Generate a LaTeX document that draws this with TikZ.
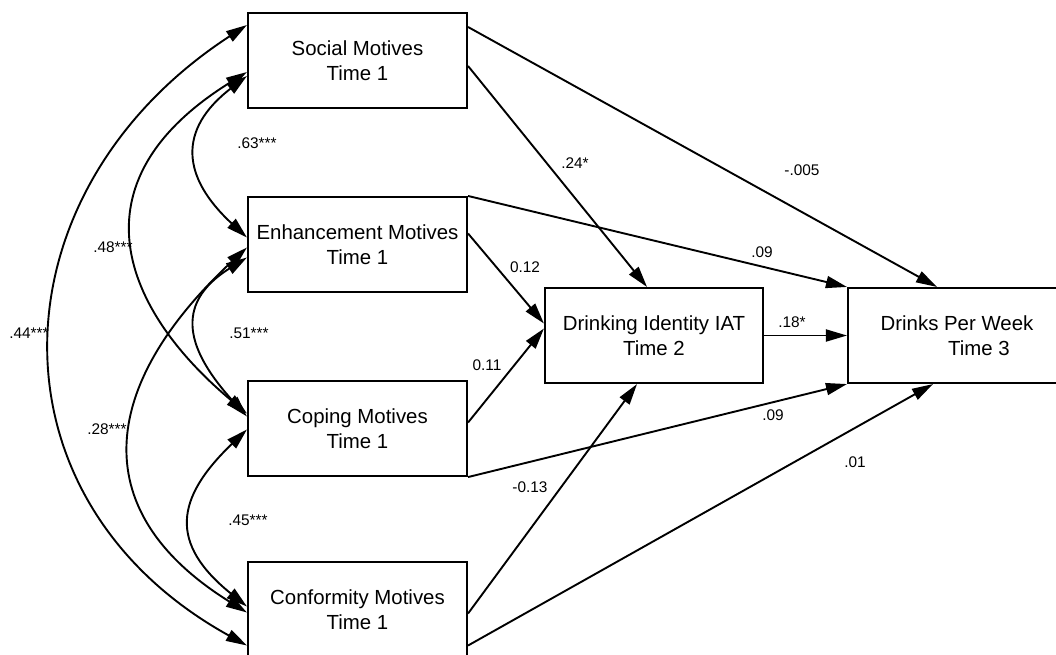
\documentclass[tikz,border=0pt]{standalone}
\usepackage{fontspec}
\setmainfont{Liberation Sans}
\usepackage{tikz}
\usetikzlibrary{arrows.meta,positioning}

\begin{document}
\begin{tikzpicture}[x=1pt,y=-1pt,on grid,
	>={Triangle[length=21pt,width=12pt]},
	box/.style={draw,line width=2.1pt,minimum width=219pt,minimum height=95pt,
		align=center,inner sep=0pt,font=\fontsize{20.4}{24.5}\selectfont},
	reg/.style={line width=1.9pt},
	coef/.style={inner sep=0pt,font=\fontsize{15.4}{17}\selectfont}]
	\useasboundingbox (0,0) rectangle (1056,654);

	% motives, time 1
	\node[box] (social) at (357.5,60.5) {Social Motives\\Time 1};
	\node[box, below=184pt of social] (enhance) {Enhancement Motives\\Time 1};
	\node[box, below=184pt of enhance] (coping) {Coping Motives\\Time 1};
	\node[box, below=181pt of coping] (conform) {Conformity Motives\\Time 1};
	% mediator and outcome
	\node[box, minimum width=218pt, below right=91pt and 296.5pt of enhance] (iat) {Drinking Identity IAT\\Time 2};
	\node[box, minimum width=218pt, right=303pt of iat] (drinks) {Drinks Per Week\\\hspace*{44pt}Time 3};

	% correlations
	\draw[reg,<->] ([yshift=35.5pt]social.west) .. controls +(-255,166) and +(-266,-147) .. ([yshift=-36pt]conform.west);
	\draw[reg,<->] ([yshift=-11.5pt]social.west) .. controls +(-178,111) and +(-123,-103) .. ([yshift=15pt]coping.west);
	\draw[reg,<->] ([yshift=-15.5pt]social.west) .. controls +(-70,54) and +(-65,-60) .. ([yshift=7pt]enhance.west);
	\draw[reg,<->] ([yshift=-13pt]enhance.west) .. controls +(-75,47) and +(-59,-65) .. ([yshift=12pt]coping.west);
	\draw[reg,<->] ([yshift=-3pt]enhance.west) .. controls +(-143,133) and +(-167,-104) .. ([yshift=-3pt]conform.west);
	\draw[reg,<->] ([yshift=-1pt]coping.west) .. controls +(-72,69) and +(-78,-63) .. ([yshift=3pt]conform.west);

	\node[coef] (r63) at (257,143) {.63***};
	\node[coef] (r48) at (113,247) {.48***};
	\node[coef] (r44) at (29,333) {.44***};
	\node[coef] (r51) at (249,333) {.51***};
	\node[coef] (r28) at (107,429) {.28***};
	\node[coef] (r45) at (248,520) {.45***};

	% paths
	\path[reg,->] ([yshift=33.5pt]social.east) edge ([xshift=-20pt]drinks.north)
		([yshift=-5.5pt]social.east) edge ([xshift=-7pt]iat.north)
		(enhance.north east) edge (drinks.north west)
		([yshift=11pt]enhance.east) edge ([yshift=12pt]iat.west)
		([yshift=6pt]coping.east) edge ([yshift=7pt]iat.west)
		(coping.south east) edge (drinks.south west)
		([yshift=-4pt]conform.east) edge ([xshift=-17pt]iat.south)
		([yshift=-36pt]conform.east) edge ([xshift=-24pt]drinks.south)
		(iat.east) edge (drinks.west);

	\node[coef] (b24) at (575,163) {.24*};
	\node[coef] (b005) at (802,170) {-.005};
	\node[coef] (b09a) at (762,252) {.09};
	\node[coef] (b12) at (525,267) {0.12};
	\node[coef] (b18) at (792,322) {.18*};
	\node[coef] (b11) at (487,365) {0.11};
	\node[coef] (b09b) at (773,415) {.09};
	\node[coef] (b01) at (855,462) {.01};
	\node[coef] (b13) at (530,487) {-0.13};
\end{tikzpicture}
\end{document}
